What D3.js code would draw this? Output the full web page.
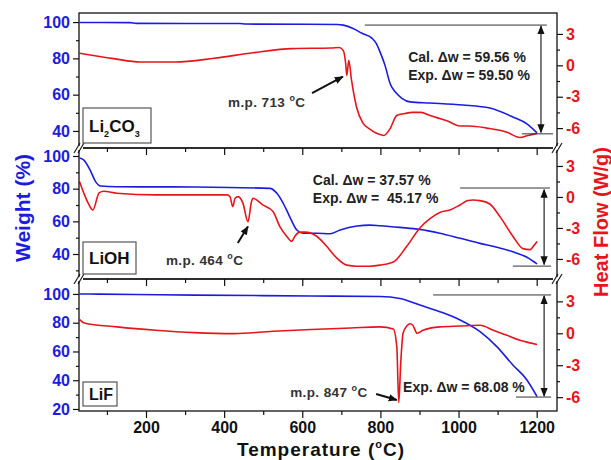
<!DOCTYPE html>
<html><head><meta charset="utf-8">
<script src="https://cdn.jsdelivr.net/npm/d3@7"></script>
<style>
body{margin:0;background:#fff;}
text{font-family:"Liberation Sans",Arial,sans-serif;}
</style></head>
<body><svg id="c" width="611" height="460"></svg>
<script>
// ---------- DATA ----------
const xTicks = [200, 400, 600, 800, 1000, 1200];
const xMinorTicks = [100, 300, 500, 700, 900, 1100];
const heatTicks = [-6, -3, 0, 3];
const heatMinor = [-4.5, -1.5, 1.5];

// Li2CO3
const tLi2CO3W = [30, 160, 175, 440, 455, 690, 705, 730, 753, 779, 790, 800, 812, 825, 840, 855, 876, 927, 1011, 1080, 1139, 1175, 1201];
const wLi2CO3  = [99.8, 99.7, 99.3, 99.2, 98.9, 98.7, 98.3, 96.5, 93.8, 91, 88, 83, 76, 66, 61, 58, 56, 55.4, 54.3, 52.6, 47.7, 43.9, 38.9];
const tLi2CO3H = [30, 117, 185, 274, 374, 474, 574, 674, 695, 705, 711, 714, 719, 726, 739, 755, 773, 790, 809, 824, 842, 863, 883, 904, 927, 970, 1004, 1029, 1072, 1124, 1157, 1178, 1201];
const hLi2CO3  = [1.15, 0.64, 0.32, 0.32, 0.67, 1.2, 1.6, 1.65, 1.7, 1.4, 0.2, -0.96, 0.48, -1.4, -4.0, -5.5, -6.1, -6.5, -6.7, -6.1, -4.8, -4.6, -4.5, -4.5, -4.8, -5.3, -5.8, -5.8, -6.0, -6.4, -6.9, -6.7, -6.5];

// LiOH
const tLiOHW = [30, 41, 57, 71, 84, 125, 325, 517, 535, 551, 568, 586, 602, 637, 671, 697, 740, 773, 799, 850, 901, 952, 1004, 1055, 1098, 1139, 1175, 1201];
const wLiOH  = [98.8, 97.5, 91.4, 84.3, 81.6, 81.2, 81, 80.2, 77.2, 71.2, 62.8, 54.7, 52.7, 52.7, 52.4, 54.7, 57.1, 57.7, 57.3, 56.3, 55.1, 52.7, 49.6, 46.5, 44.1, 41.4, 38, 33.9];
const tLiOHH = [30, 41, 52, 64, 80, 92, 125, 224, 407, 415, 422, 428, 436, 448, 461, 470, 474, 499, 525, 543, 560, 573, 581, 594, 607, 637, 663, 688, 714, 739, 773, 799, 833, 867, 901, 927, 952, 978, 1004, 1024, 1037, 1055, 1080, 1106, 1139, 1165, 1183, 1193, 1201];
const hLiOH  = [1.48, 0.36, -0.6, -1.26, 0.4, 0.55, 0.36, 0.2, 0.2, 0.03, -0.94, -0.13, 0.03, -0.6, -2.4, -0.45, -0.13, -0.77, -1.4, -2.9, -3.8, -4.3, -3.8, -3.4, -3.4, -3.8, -4.8, -5.9, -6.6, -6.7, -6.7, -6.6, -6.3, -4.8, -3.0, -2.1, -1.5, -1.26, -0.77, -0.35, -0.3, -0.35, -0.68, -1.9, -3.8, -5.0, -5.1, -4.7, -4.3];

// LiF
const tLiFW = [30, 80, 174, 324, 623, 799, 850, 901, 952, 1004, 1055, 1098, 1139, 1175, 1201];
const wLiF  = [100, 99.9, 99.6, 99.2, 98.6, 98.2, 96.8, 92.3, 87.7, 81.9, 73.8, 63.4, 50.6, 40.2, 28.6];
const tLiFH = [30, 42, 126, 225, 324, 425, 525, 623, 725, 799, 833, 842, 847, 852, 858, 868, 876, 883, 894, 909, 952, 1004, 1055, 1089, 1124, 1157, 1183, 1201];
const hLiF  = [1.28, 0.97, 0.6, 0.28, 0.06, -0.03, 0.19, 0.35, 0.5, 0.6, 0.4, -1.3, -6.5, -2.8, 0.0, 0.7, 0.9, 0.75, 0.0, 0.28, 0.6, 0.68, 0.75, 0.28, -0.19, -0.66, -0.9, -1.06];

// ---------- LAYOUT ----------
const BLUE = "#1c1ce0", RED = "#e8141c", INK = "#222";
const svg = d3.select("#c");
const x = d3.scaleLinear().domain([28.5, 1252]).range([79, 557]);
const X0 = 79, X1 = 557;

const panels = [
  {top:13, bottom:148, wDom:[30.6,105], hDom:[-7.9,5.0], wTicks:[40,60,80,100], wMinor:[50,70,90],
   tw:tLi2CO3W, w:wLi2CO3, th:tLi2CO3H, h:hLi2CO3},
  {top:148, bottom:279, wDom:[24.7,104.9], hDom:[-7.94,4.74], wTicks:[40,60,80,100], wMinor:[30,50,70,90],
   tw:tLiOHW, w:wLiOH, th:tLiOHH, h:hLiOH},
  {top:279, bottom:411, wDom:[18.6,110.4], hDom:[-7.3,5.1], wTicks:[20,40,60,80,100], wMinor:[30,50,70,90],
   tw:tLiFW, w:wLiF, th:tLiFH, h:hLiF}
];

const defs = svg.append("defs");
defs.append("marker").attr("id","ah").attr("viewBox","0 0 10 10").attr("refX",9).attr("refY",5)
  .attr("markerWidth",9).attr("markerHeight",9).attr("orient","auto-start-reverse").attr("markerUnits","userSpaceOnUse")
  .append("path").attr("d","M0,1 L10,5 L0,9 Z").attr("fill","#111");

panels.forEach((p,i)=>{
  p.yW = d3.scaleLinear().domain(p.wDom).range([p.bottom, p.top]);
  p.yH = d3.scaleLinear().domain(p.hDom).range([p.bottom, p.top]);
  const g = svg.append("g");
  const lw = d3.line().x(d=>x(d[0])).y(d=>p.yW(d[1])).curve(d3.curveMonotoneX);
  const lh = d3.line().x(d=>x(d[0])).y(d=>p.yH(d[1])).curve(d3.curveMonotoneX);
  g.append("path").attr("d", lw(d3.zip(p.tw,p.w))).attr("fill","none").attr("stroke",BLUE).attr("stroke-width",1.6);
  g.append("path").attr("d", lh(d3.zip(p.th,p.h))).attr("fill","none").attr("stroke",RED).attr("stroke-width",1.6);
  g.append("rect").attr("x",X0).attr("y",p.top).attr("width",X1-X0).attr("height",p.bottom-p.top)
    .attr("fill","none").attr("stroke","#111").attr("stroke-width",1.3);
  const la = g.append("g").attr("transform",`translate(${X0},0)`)
    .call(d3.axisLeft(p.yW).tickValues(p.wTicks).tickSize(6).tickPadding(3).tickFormat(d=>String(d)));
  la.append("g").call(d3.axisLeft(p.yW).tickValues(p.wMinor).tickSize(3).tickFormat(""));
  la.selectAll(".domain").remove();
  la.selectAll("line").attr("stroke","#111").attr("stroke-width",1.2);
  la.selectAll("text").attr("fill",BLUE).attr("font-size",16).attr("font-weight","bold");
  const ra = g.append("g").attr("transform",`translate(${X1},0)`)
    .call(d3.axisRight(p.yH).tickValues(heatTicks).tickSize(6).tickPadding(3).tickFormat(d=>String(d)));
  ra.append("g").call(d3.axisRight(p.yH).tickValues(heatMinor).tickSize(3).tickFormat(""));
  ra.selectAll(".domain").remove();
  ra.selectAll("line").attr("stroke","#111").attr("stroke-width",1.2);
  ra.selectAll("text").attr("fill",RED).attr("font-size",16).attr("font-weight","bold");
  const ba = g.append("g").attr("transform",`translate(0,${p.bottom})`)
    .call(d3.axisBottom(x).tickValues(xTicks).tickSize(7).tickPadding(4).tickFormat(i===2? (d=>String(d)) : ""));
  ba.append("g").call(d3.axisBottom(x).tickValues(xMinorTicks).tickSize(4).tickFormat(""));
  ba.selectAll(".domain").remove();
  ba.selectAll("line").attr("stroke","#111").attr("stroke-width",1.2);
  ba.selectAll("text").attr("fill","#111").attr("font-size",16).attr("font-weight","bold");
});

// axis break marks
[148, 279].forEach(yy=>{
  [X0, X1].forEach(xx=>{
    const b = svg.append("g").attr("transform",`translate(${xx},${yy})`);
    b.append("rect").attr("x",-4).attr("y",-2).attr("width",8).attr("height",4).attr("fill","#fff");
    [-2,2].forEach(o=>b.append("line").attr("x1",-3+o).attr("y1",5).attr("x2",3+o).attr("y2",-5)
      .attr("stroke","#111").attr("stroke-width",1.1));
  });
});

// ---------- ANNOTATIONS ----------
function hline(p,t0,t1,w){svg.append("line").attr("x1",x(t0)).attr("x2",x(t1)).attr("y1",p.yW(w)).attr("y2",p.yW(w)).attr("stroke","#333").attr("stroke-width",1);}
function darrow(p,t,w0,w1){svg.append("line").attr("x1",x(t)).attr("x2",x(t)).attr("y1",p.yW(w0)).attr("y2",p.yW(w1))
  .attr("stroke","#111").attr("stroke-width",1.1).attr("marker-start","url(#ah)").attr("marker-end","url(#ah)");}
function arrow(p,t0,w0,t1,w1){svg.append("line").attr("x1",x(t0)).attr("y1",p.yW(w0)).attr("x2",x(t1)).attr("y2",p.yW(w1))
  .attr("stroke","#111").attr("stroke-width",2).attr("marker-end","url(#ah)");}
function label(p,t,w,txt,size){svg.append("text").attr("x",x(t)).attr("y",p.yW(w)).attr("font-size",size||14)
  .attr("font-weight","bold").attr("fill",INK).text(txt);}
function mp(p,t,w,num){const tx=svg.append("text").attr("x",x(t)).attr("y",p.yW(w)).attr("font-size",13.5)
  .attr("font-weight","bold").attr("fill","#333").attr("letter-spacing",0.4);
  tx.append("tspan").text("m.p. "+num+" ");
  tx.append("tspan").attr("font-size",9).attr("dy",-6).text("o");
  tx.append("tspan").attr("dy",6).text("C");}
function box(p,wpx,txtFn){const g=svg.append("g");
  g.append("rect").attr("x",X0+4).attr("y",p.bottom-5-wpx[1]).attr("width",wpx[0]).attr("height",wpx[1])
   .attr("fill","#fff").attr("stroke","#555").attr("stroke-width",1.2);
  const t=g.append("text").attr("x",X0+10).attr("y",p.bottom-5-wpx[1]/2+6).attr("font-size",17).attr("font-weight","bold").attr("fill","#111");
  txtFn(t);}

const [P1,P2,P3] = panels;
// Panel 1
hline(P1,760,1226,98.35); hline(P1,1162,1242,38.4); darrow(P1,1211,97.8,39.2);
label(P1,871,78,"Cal. \u0394w = 59.56 %"); label(P1,871,68,"Exp. \u0394w = 59.50 %");
mp(P1,410,53.2,"713"); arrow(P1,625,60.9,704,69.9);
box(P1,[68,35],t=>{t.append("tspan").text("Li");t.append("tspan").attr("font-size",9).attr("dy",5).text("2");
  t.append("tspan").attr("dy",-5).text("CO");t.append("tspan").attr("font-size",9).attr("dy",5).text("3");});
// Panel 2
hline(P2,1004,1234,80.4); hline(P2,1139,1237,32.6); darrow(P2,1219,79.4,33.6);
label(P2,627,82.2,"Cal. \u0394w = 37.57 %"); label(P2,627,71.2,"Exp. \u0394w =\u00a0 45.17 %");
mp(P2,251,33.3,"464"); arrow(P2,435,46.7,461,56.8);
box(P2,[53,32],t=>t.text("LiOH"));
// Panel 3
hline(P3,935,1237,99.3); hline(P3,1147,1237,28.3); darrow(P3,1219,98.6,29.0);
label(P3,858,31.8,"Exp. \u0394w = 68.08 %");
mp(P3,569,28.3,"847"); arrow(P3,789,30.4,842,26.3);
box(P3,[34,24],t=>t.attr("font-size",16).text("LiF"));

// ---------- AXIS TITLES ----------
svg.append("text").attr("transform","translate(30,208) rotate(-90)").attr("text-anchor","middle")
  .attr("font-size",21).attr("font-weight","bold").attr("fill",BLUE).text("Weight (%)");
svg.append("text").attr("transform","translate(608,222) rotate(-90)").attr("text-anchor","middle")
  .attr("font-size",20).attr("font-weight","bold").attr("fill",RED).text("Heat Flow (W/g)");
const tt = svg.append("text").attr("x",321).attr("y",456).attr("text-anchor","middle")
  .attr("font-size",19).attr("font-weight","bold").attr("fill","#111").attr("letter-spacing",1.0);
tt.append("tspan").text("Temperature (");
tt.append("tspan").attr("font-size",11).attr("dy",-8).text("o");
tt.append("tspan").attr("dy",8).text("C)");
</script></body></html>
